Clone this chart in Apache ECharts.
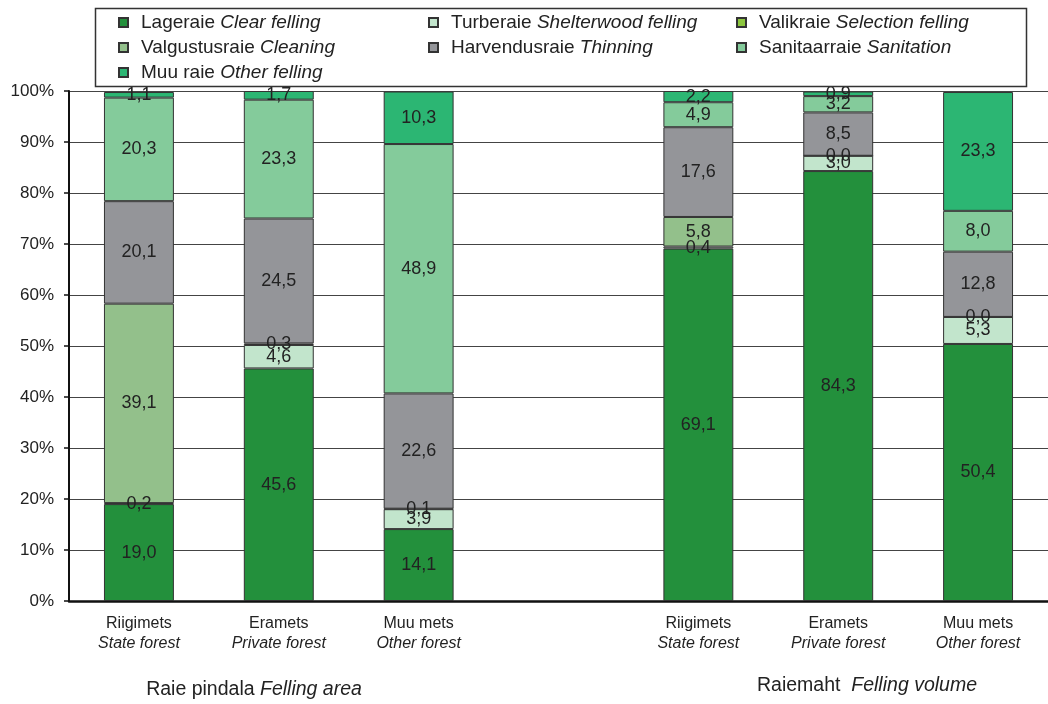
<!DOCTYPE html>
<html>
<head>
<meta charset="utf-8">
<script src="https://cdn.jsdelivr.net/npm/echarts@6/dist/echarts.min.js"></script>
<style>html,body{margin:0;padding:0;background:#fff;}#c{width:1048px;height:704px;}</style>
</head>
<body>
<div id="c"></div>
<script>
// ---- data ----
const categoriesEt = ['Riigimets', 'Eramets', 'Muu mets', '', 'Riigimets', 'Eramets', 'Muu mets'];
const categoriesEn = ['State forest', 'Private forest', 'Other forest', '', 'State forest', 'Private forest', 'Other forest'];
const seriesNamesEt = ['Lageraie', 'Turberaie', 'Valikraie', 'Valgustusraie', 'Harvendusraie', 'Sanitaarraie', 'Muu raie'];
const seriesNamesEn = ['Clear felling', 'Shelterwood felling', 'Selection felling', 'Cleaning', 'Thinning', 'Sanitation', 'Other felling'];
const lageraie      = [19.0, 45.6, 14.1, null, 69.1, 84.3, 50.4];
const turberaie     = [0.2, 4.6, 3.9, null, 0.4, 3.0, 5.3];
const valikraie     = [null, 0.3, 0.1, null, null, 0.0, 0.0];
const valgustusraie = [39.1, null, null, null, 5.8, null, null];
const harvendusraie = [20.1, 24.5, 22.6, null, 17.6, 8.5, 12.8];
const sanitaarraie  = [20.3, 23.3, 48.9, null, 4.9, 3.2, 8.0];
const muuRaie       = [1.1, 1.7, 10.3, null, 2.2, 0.9, 23.3];
const yTicks = [0, 10, 20, 30, 40, 50, 60, 70, 80, 90, 100];
const groupLabels = [['Raie pindala ', 'Felling area'], ['Raiemaht  ', 'Felling volume']];

const seriesValues = [lageraie, turberaie, valikraie, valgustusraie, harvendusraie, sanitaarraie, muuRaie];
const colors = ['#23903c', '#c2e5cc', '#8cc63e', '#93c08b', '#949599', '#84cb9b', '#2cb673'];
const FONT = '"Liberation Sans", Arial, sans-serif';

const enByEt = {};
seriesNamesEt.forEach((n, i) => enByEt[n] = seriesNamesEn[i]);

const series = seriesNamesEt.map((name, i) => ({
  name: name,
  type: 'bar',
  stack: 'total',
  barWidth: '50%',
  data: seriesValues[i],
  itemStyle: { color: colors[i], borderColor: '#333', borderWidth: 1 },
  label: {
    show: true,
    position: 'inside',
    fontFamily: FONT,
    fontSize: 18,
    color: '#222',
    formatter: p => (p.value === null || p.value === undefined) ? '' : Number(p.value).toFixed(1).replace('.', ',')
  },
  emphasis: { disabled: true }
}));

const legendRich = {
  a: { fontFamily: FONT, fontSize: 19, color: '#222', padding: [0, 0, 0, 8] },
  b: { fontFamily: FONT, fontSize: 19, color: '#222', fontStyle: 'italic' }
};
function makeLegend(names, left) {
  return {
    data: names,
    orient: 'vertical',
    left: left,
    top: 12,
    itemWidth: 9,
    itemHeight: 9,
    itemGap: 4,
    padding: 0,
    selectedMode: false,
    icon: 'rect',
    formatter: n => '{a|' + n + ' }{b|' + enByEt[n] + '}',
    textStyle: { lineHeight: 21, rich: legendRich }
  };
}

const chart = echarts.init(document.getElementById('c'), null, { renderer: 'canvas' });
chart.setOption({
  animation: false,
  backgroundColor: '#fff',
  grid: { left: 69, right: -7, top: 91, bottom: 103, containLabel: false },
  legend: [
    makeLegend(['Lageraie', 'Valgustusraie', 'Muu raie'], 118),
    makeLegend(['Turberaie', 'Harvendusraie'], 428),
    makeLegend(['Valikraie', 'Sanitaarraie'], 736)
  ],
  xAxis: {
    type: 'category',
    data: categoriesEt,
    axisLine: { show: true, lineStyle: { color: '#111', width: 2.5 } },
    axisTick: { show: false },
    splitLine: { show: false },
    axisLabel: {
      interval: 0,
      margin: 13,
      formatter: (v, i) => v ? '{a|' + v + '}\n{b|' + categoriesEn[i] + '}' : '',
      rich: {
        a: { fontFamily: FONT, fontSize: 16, color: '#222', lineHeight: 20 },
        b: { fontFamily: FONT, fontSize: 16, color: '#222', fontStyle: 'italic', lineHeight: 20 }
      }
    }
  },
  yAxis: {
    type: 'value',
    min: yTicks[0],
    max: yTicks[yTicks.length - 1],
    interval: 10,
    axisLine: { show: true, lineStyle: { color: '#111', width: 2 } },
    axisTick: { show: true, inside: false, length: 5, lineStyle: { color: '#111', width: 1.5 } },
    splitLine: { show: true, lineStyle: { color: '#444', width: 1.2 } },
    axisLabel: { fontFamily: FONT, fontSize: 17, color: '#222', margin: 15, formatter: '{value}%' }
  },
  graphic: [
    { type: 'rect', left: 93, top: 6, shape: { width: 931, height: 78 },
      style: { fill: 'none', stroke: '#333', lineWidth: 1.5 }, z: 100 },
    { type: 'text', x: 254, y: 690,
      style: { text: '{a|' + groupLabels[0][0] + '}{b|' + groupLabels[0][1] + '}', align: 'center', verticalAlign: 'middle',
        rich: { a: { fontFamily: FONT, fontSize: 19.5, fill: '#222' }, b: { fontFamily: FONT, fontSize: 19.5, fill: '#222', fontStyle: 'italic' } } } },
    { type: 'text', x: 867, y: 686,
      style: { text: '{a|' + groupLabels[1][0] + '}{b|' + groupLabels[1][1] + '}', align: 'center', verticalAlign: 'middle',
        rich: { a: { fontFamily: FONT, fontSize: 19.5, fill: '#222' }, b: { fontFamily: FONT, fontSize: 19.5, fill: '#222', fontStyle: 'italic' } } } }
  ],
  series: series
});
</script>
</body>
</html>
